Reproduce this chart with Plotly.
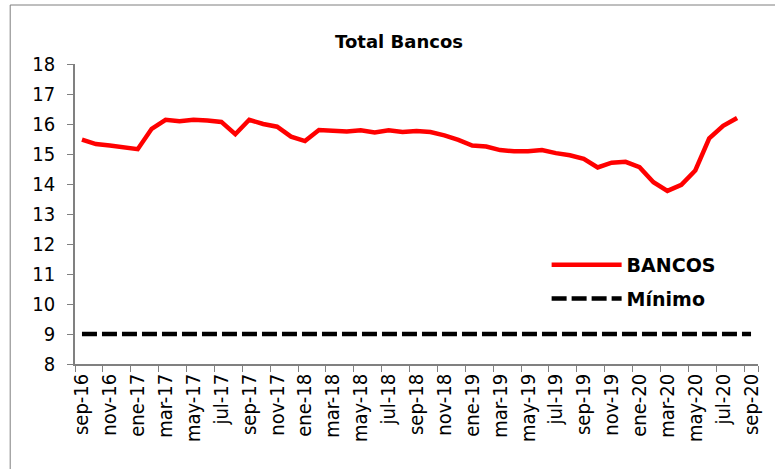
import plotly.graph_objects as go

months = [
    "sep-16", "oct-16", "nov-16", "dic-16", "ene-17", "feb-17", "mar-17", "abr-17",
    "may-17", "jun-17", "jul-17", "ago-17", "sep-17", "oct-17", "nov-17", "dic-17",
    "ene-18", "feb-18", "mar-18", "abr-18", "may-18", "jun-18", "jul-18", "ago-18",
    "sep-18", "oct-18", "nov-18", "dic-18", "ene-19", "feb-19", "mar-19", "abr-19",
    "may-19", "jun-19", "jul-19", "ago-19", "sep-19", "oct-19", "nov-19", "dic-19",
    "ene-20", "feb-20", "mar-20", "abr-20", "may-20", "jun-20", "jul-20", "ago-20",
    "sep-20",
]

bancos = [
    15.48, 15.33, 15.28, 15.22, 15.16, 15.84, 16.14, 16.09,
    16.14, 16.12, 16.07, 15.66, 16.14, 16.00, 15.91, 15.58,
    15.43, 15.80, 15.79, 15.75, 15.79, 15.72, 15.79, 15.73,
    15.77, 15.73, 15.62, 15.47, 15.28, 15.25, 15.13, 15.09,
    15.09, 15.13, 15.03, 14.96, 14.84, 14.55, 14.71, 14.74,
    14.56, 14.06, 13.77, 13.97, 14.45, 15.52, 15.94, 16.20,
]

minimo = [9] * len(months)

tick_labels = months[::2]
y_ticks = list(range(8, 19))

tick_font = dict(family="DejaVu Sans Condensed, DejaVu Sans, sans-serif", size=20, color="black")
bold_font = "DejaVu Sans, Verdana, sans-serif"

fig = go.Figure()
fig.add_trace(go.Scatter(
    x=months[:len(bancos)], y=bancos, mode="lines", name="<b>BANCOS</b>",
    line=dict(color="#FF0000", width=4.5), legendgroup="a",
))
fig.add_trace(go.Scatter(
    x=months, y=minimo, mode="lines", name="<b>Mínimo</b>",
    line=dict(color="black", width=4.5, dash="15px,5px"), legendgroup="b",
))

fig.update_layout(
    width=775, height=469,
    margin=dict(l=75, r=15, t=64, b=105),
    paper_bgcolor="white", plot_bgcolor="white",
    title=dict(text="<b>Total Bancos</b>", x=(400 - 75) / 685, xref="paper", xanchor="center",
               y=1 - 42 / 469, yanchor="middle",
               font=dict(family=bold_font, size=18, color="black")),
    showlegend=True,
    legend=dict(x=(548 - 75) / 685, xanchor="left", y=(364 - 246) / 300, yanchor="top",
                font=dict(family=bold_font, size=19, color="black"),
                itemwidth=70, tracegroupgap=6, bgcolor="rgba(0,0,0,0)",
                traceorder="grouped"),
    xaxis=dict(
        type="category", categoryorder="array", categoryarray=months,
        range=[-0.5, len(months) - 0.5],
        tickmode="array", tickvals=tick_labels, ticktext=tick_labels,
        tickson="boundaries", ticks="outside", ticklen=6, tickcolor="#808080",
        tickangle=-90, tickfont=tick_font,
        showline=True, linecolor="#808080", linewidth=1.5,
        showgrid=False, zeroline=False,
    ),
    yaxis=dict(
        range=[8, 18], tickmode="array", tickvals=y_ticks,
        ticks="outside", ticklen=6, tickcolor="#808080", tickfont=tick_font,
        ticklabelstandoff=8,
        showline=True, linecolor="#808080", linewidth=1.5,
        showgrid=False, zeroline=False,
    ),
    shapes=[dict(type="rect", xref="paper", yref="paper",
                 x0=(10 - 75) / 685, x1=(795 - 75) / 685,
                 y0=(364 - 485) / 300, y1=(364 - 5) / 300,
                 line=dict(color="#7f7f7f", width=1), fillcolor="rgba(0,0,0,0)",
                 layer="below")],
)

fig.write_html("out.html", config={"displayModeBar": False},
               post_script="document.body.style.margin='0';")
